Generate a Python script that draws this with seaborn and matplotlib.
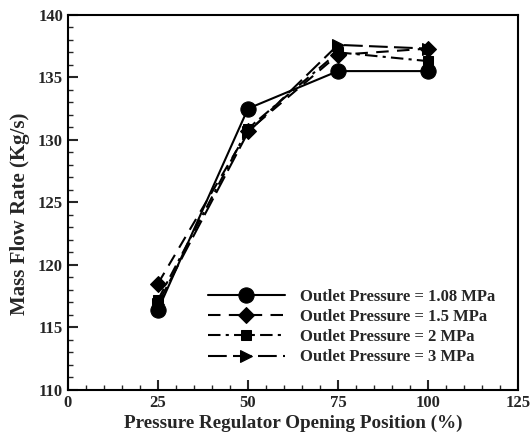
import matplotlib
matplotlib.use("Agg")
import matplotlib.pyplot as plt
import seaborn as sns
import pandas as pd
from matplotlib.ticker import MultipleLocator

positions = [25, 50, 75, 100]
series_names = ["Outlet Pressure = 1.08 MPa", "Outlet Pressure = 1.5 MPa",
                "Outlet Pressure = 2 MPa", "Outlet Pressure = 3 MPa"]
flow_108 = [116.4, 132.5, 135.5, 135.5]
flow_15 = [118.5, 130.7, 136.8, 137.3]
flow_2 = [117.2, 130.9, 137.0, 136.3]
flow_3 = [116.9, 130.6, 137.6, 137.3]
all_flows = [flow_108, flow_15, flow_2, flow_3]

sns.set_style("ticks")
plt.rcParams['font.family'] = ['Liberation Serif', 'DejaVu Serif']
plt.rcParams['font.weight'] = 'bold'

fig = plt.figure(figsize=(5.31, 4.37), dpi=100)
ax = fig.add_axes([0.128, 0.108, 0.8475, 0.858])

styles = [
    dict(marker='o', ms=11, dashes=None),
    dict(marker='D', ms=8, dashes=(6, 4)),
    dict(marker='s', ms=7.5, dashes=(6, 2.5, 1.5, 2.5)),
    dict(marker='>', ms=9, dashes=(9, 3)),
]

for name, vals, st in zip(series_names, all_flows, styles):
    df = pd.DataFrame({"x": positions, "y": vals})
    sns.lineplot(data=df, x="x", y="y", color='black', lw=1.5, marker=st['marker'],
                 markersize=st['ms'], markeredgecolor='black', markerfacecolor='black',
                 label=name, ax=ax)
    if st['dashes'] is not None:
        ax.lines[-1].set_dashes(st['dashes'])

ax.set_xlim(0, 125)
ax.set_ylim(110, 140)
ax.xaxis.set_major_locator(MultipleLocator(25))
ax.xaxis.set_minor_locator(MultipleLocator(5))
ax.yaxis.set_major_locator(MultipleLocator(5))
ax.yaxis.set_minor_locator(MultipleLocator(1))
ax.tick_params(which='major', direction='in', length=7, width=1.5, labelsize=12)
ax.tick_params(which='minor', direction='in', length=3.5, width=1)
for lab in ax.get_xticklabels() + ax.get_yticklabels():
    lab.set_fontweight('bold')
for sp in ax.spines.values():
    sp.set_linewidth(1.5)
    sp.set_color('black')

ax.set_xlabel("Pressure Regulator Opening Position (%)", fontsize=13.8, fontweight='bold', labelpad=3)
ax.set_ylabel("Mass Flow Rate (Kg/s)", fontsize=15, fontweight='bold')
ax.yaxis.set_label_coords(-0.084, 0.47)

leg = ax.legend(loc='lower right', bbox_to_anchor=(0.982, 0.025), frameon=False,
                handlelength=4.6, fontsize=12, labelspacing=0.25, handletextpad=0.9)
for t in leg.get_texts():
    t.set_fontweight('bold')

fig.savefig("out.png", dpi=100)
